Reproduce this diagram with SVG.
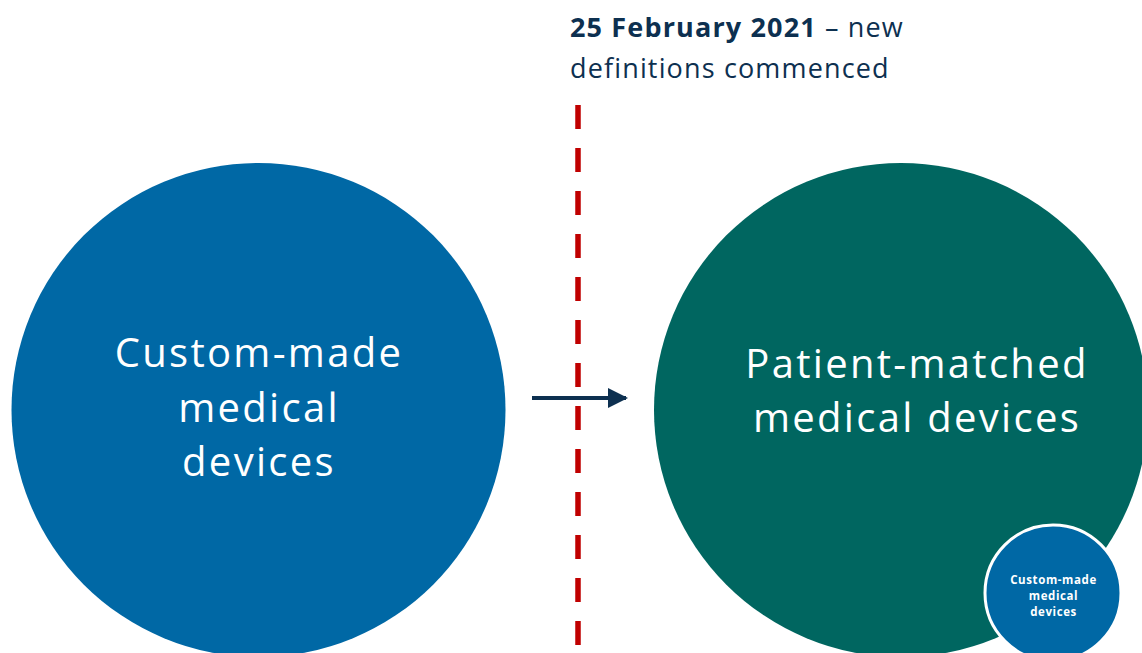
<svg xmlns="http://www.w3.org/2000/svg" width="1142" height="653" viewBox="0 0 1142 653">
<defs>
<style>
.big{font-family:"Open Sans","Noto Sans","Liberation Sans",sans-serif;fill:#fff;text-anchor:middle;font-size:40px;letter-spacing:2.3px}
.top{font-family:"Open Sans","Noto Sans","Liberation Sans",sans-serif;fill:#0d3050;font-size:27px;letter-spacing:1.15px}
.small{font-family:"Open Sans","Noto Sans","Liberation Sans",sans-serif;fill:#fff;text-anchor:middle;font-size:11.5px;font-weight:bold;letter-spacing:0.6px}
</style>
<marker id="ah" markerWidth="5" markerHeight="5" refX="4.5" refY="2.5" orient="auto" markerUnits="strokeWidth">
<path d="M0,0 L5,2.5 L0,5 Z" fill="#0d3050"/>
</marker>
</defs>
<rect width="1142" height="653" fill="#fff"/>
<g id="custom-made">
<circle cx="258.5" cy="410" r="247" fill="#0068a5"/>
<text class="big" x="259" y="367">Custom-made</text>
<text class="big" x="259" y="422">medical</text>
<text class="big" x="259" y="476">devices</text>
</g>
<g id="patient-matched">
<circle cx="901" cy="410" r="247" fill="#006660"/>
<text class="big" x="917" y="378">Patient-matched</text>
<text class="big" x="917" y="432">medical devices</text>
</g>
<g id="custom-made-small">
<circle cx="1053" cy="593" r="68" fill="#0068a5" stroke="#fff" stroke-width="3"/>
<text class="small" x="1053.5" y="584">Custom-made</text>
<text class="small" x="1053.5" y="600">medical</text>
<text class="small" x="1053.5" y="616">devices</text>
</g>
<g id="date-label">
<text class="top" x="570" y="37"><tspan font-weight="bold">25 February 2021</tspan> – new</text>
<text class="top" x="570" y="78">definitions commenced</text>
</g>
<g id="connectors">
<line x1="578" y1="105" x2="578" y2="653" stroke="#c00000" stroke-width="5.5" stroke-dasharray="24 19"/>
<line x1="532" y1="398" x2="626" y2="398" stroke="#0d3050" stroke-width="4" marker-end="url(#ah)"/>
</g>
</svg>
